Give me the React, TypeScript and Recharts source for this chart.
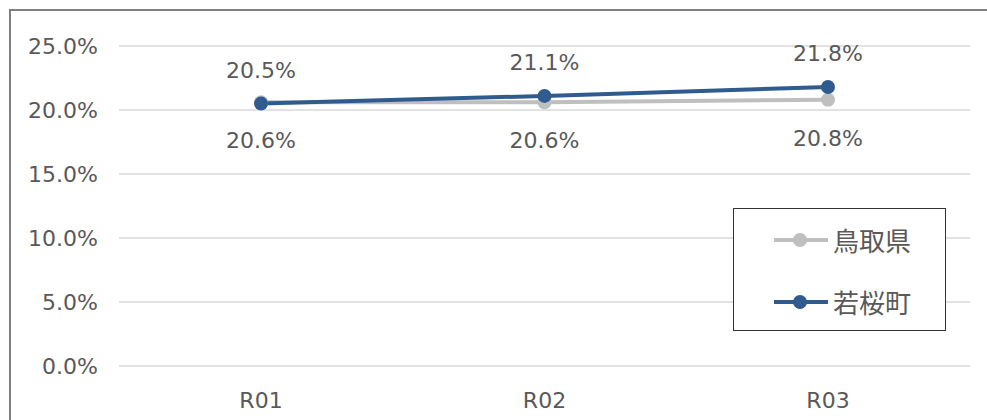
import React from "react";
import {
  LineChart,
  Line,
  XAxis,
  YAxis,
  CartesianGrid,
  LabelList,
} from "recharts";

const categories = ["R01", "R02", "R03"];
const tottori = [20.6, 20.6, 20.8];
const wakasa = [20.5, 21.1, 21.8];
const yTicks = [0, 5, 10, 15, 20, 25];

const data = categories.map((name, i) => ({
  name,
  tottori: tottori[i],
  wakasa: wakasa[i],
}));

const GRAY = "#bfbfbf";
const BLUE = "#2f5b8f";
const TEXT = "#595959";
const NUM_FONT = "'DejaVu Sans', Verdana, sans-serif";
const JP_FONT = "'Noto Sans CJK JP', sans-serif";

const makeLabel = (dy: number) => (props: any) => {
  const { x, y, value } = props;
  return (
    <text
      x={x}
      y={y + dy}
      textAnchor="middle"
      fill={TEXT}
      fontSize={22}
      fontFamily={NUM_FONT}
    >
      {Number(value).toFixed(1)}%
    </text>
  );
};

const items = [
  { label: "鳥取県", color: GRAY },
  { label: "若桜町", color: BLUE },
];

// legend box drawn over the plot, like the Excel one
const LegendBox = () => (
  <div
    style={{
      position: "absolute",
      left: 733,
      top: 208,
      width: 211,
      height: 121,
      border: "1.5px solid #333",
      background: "#fff",
    }}
  >
    {items.map((it, i) => (
      <div
        key={it.label}
        style={{
          position: "absolute",
          left: 0,
          top: 31 + i * 62 - 20,
          height: 40,
          display: "flex",
          alignItems: "center",
        }}
      >
        <svg width={99} height={40} style={{ display: "block" }}>
          <line x1={40} x2={94} y1={20} y2={20} stroke={it.color} strokeWidth={4} />
          <circle cx={66} cy={20} r={7} fill={it.color} />
        </svg>
        <span
          style={{
            fontFamily: JP_FONT,
            fontSize: 26,
            color: TEXT,
            lineHeight: "40px",
            whiteSpace: "nowrap",
          }}
        >
          {it.label}
        </span>
      </div>
    ))}
  </div>
);

export default function App() {
  return (
    <div
      style={{
        position: "relative",
        width: 987,
        height: 420,
        overflow: "hidden",
        background: "#fff",
      }}
    >
      <style>{`html, body { margin: 0; padding: 0; overflow: hidden; }`}</style>
      <div
        style={{
          position: "absolute",
          left: 9,
          top: 9,
          width: 978,
          height: 411,
          boxSizing: "border-box",
          borderTop: "2px solid #7f7f7f",
          borderLeft: "2px solid #7f7f7f",
        }}
      />
      <LineChart
        width={987}
        height={420}
        data={data}
        margin={{ top: 46, right: 17, bottom: 14, left: 19 }}
        style={{ position: "absolute", left: 0, top: 0 }}
      >
        <CartesianGrid vertical={false} stroke="#d9d9d9" strokeWidth={1.5} />
        <XAxis
          dataKey="name"
          axisLine={false}
          tickLine={false}
          tickSize={0}
          tickMargin={26}
          height={40}
          padding={{ left: 142, right: 142 }}
          tick={{ fill: TEXT, fontSize: 22, fontFamily: NUM_FONT }}
        />
        <YAxis
          domain={[0, 25]}
          ticks={yTicks}
          width={100}
          axisLine={false}
          tickLine={false}
          tickSize={0}
          tickMargin={21}
          tickFormatter={(v: number) => v.toFixed(1) + "%"}
          tick={{ fill: TEXT, fontSize: 22, fontFamily: NUM_FONT }}
        />
        <Line
          dataKey="tottori"
          name="鳥取県"
          stroke={GRAY}
          strokeWidth={4}
          dot={{ r: 7, fill: GRAY, stroke: GRAY, strokeWidth: 0 }}
          activeDot={false}
          isAnimationActive={false}
        >
          <LabelList dataKey="tottori" content={makeLabel(46)} />
        </Line>
        <Line
          dataKey="wakasa"
          name="若桜町"
          stroke={BLUE}
          strokeWidth={4}
          dot={{ r: 7, fill: BLUE, stroke: BLUE, strokeWidth: 0 }}
          activeDot={false}
          isAnimationActive={false}
        >
          <LabelList dataKey="wakasa" content={makeLabel(-26)} />
        </Line>
      </LineChart>
      <LegendBox />
    </div>
  );
}
